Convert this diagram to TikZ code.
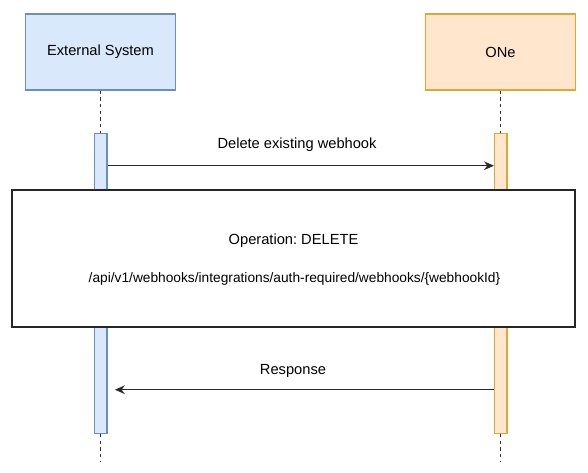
\documentclass[tikz,border=0pt]{standalone}
\usepackage{fontspec}
\setmainfont{Liberation Sans}
\frenchspacing
\usetikzlibrary{arrows.meta}
\definecolor{bluefill}{HTML}{DAE8FC}
\definecolor{bluedraw}{HTML}{6C8EBF}
\definecolor{orfill}{HTML}{FFE6CC}
\definecolor{ordraw}{HTML}{DDA833}
\definecolor{linegray}{HTML}{2A2A2A}
\tikzset{
  actor/.style={draw, line width=1pt, minimum width=150*0.75pt, minimum height=76*0.75pt, font=\fontsize{11}{13}\selectfont, inner sep=0pt},
  bluebox/.style={actor, fill=bluefill, draw=bluedraw},
  orbox/.style={actor, fill=orfill, draw=ordraw},
  lifeline/.style={dashed, dash pattern=on 2.5pt off 2.5pt, line width=0.8pt, draw=black!80},
  msg/.style={draw=linegray, line width=1pt, -{Stealth[length=7.5pt,width=6.5pt,inset=2.5pt]}},
  lbl/.style={font=\fontsize{11}{13}\selectfont, inner sep=0pt},
}
\begin{document}
\begin{tikzpicture}[x=0.75pt,y=-0.75pt]
\useasboundingbox (0,0) rectangle (588,472);
% actors
\node[bluebox] (ext) at (100.5,52) {External System};
\node[orbox] (one) at (500.5,52) {ONe};
% lifeline ends
\coordinate (extEnd) at (100.5,462);
\coordinate (oneEnd) at (500.5,462);
% activations
\node[draw=bluedraw, fill=bluefill, line width=0.8pt, minimum width=12.5*0.75pt, minimum height=300*0.75pt, inner sep=0pt] (extAct) at (100.75,283.5) {};
\node[draw=ordraw, fill=orfill, line width=0.8pt, minimum width=12.5*0.75pt, minimum height=300*0.75pt, inner sep=0pt] (oneAct) at (500.75,283.5) {};
\draw[lifeline] (ext.south) -- (ext.south |- extAct.north);
\draw[lifeline] (one.south) -- (one.south |- oneAct.north);
\draw[lifeline] (extAct.south -| extEnd) -- (extEnd);
\draw[lifeline] (oneAct.south -| oneEnd) -- (oneEnd);
% request
\coordinate (reqA) at (107,165.7);
\draw[msg] (extAct.east |- reqA) -- (oneAct.west |- reqA);
\node[lbl] (reqL) at (297,145) {Delete existing webhook};
% operation box
\node[draw=black!85, fill=white, line width=1.1pt, minimum width=563*0.75pt, minimum height=137*0.75pt, inner sep=0pt] (op) at (293.5,258.5) {};
\node[lbl] (opL1) at (293.5,240.5) {Operation: DELETE};
\node[lbl, font=\fontsize{10.3}{12}\selectfont] (opL2) at (294.5,278.5) {/api/v1/webhooks/integrations/auth-required/webhooks/\{webhookId\}};
% response
\coordinate (resA) at (494,389.7);
\draw[msg] (oneAct.west |- resA) -- ([xshift=5.5pt]extAct.east |- resA);
\node[lbl] (resL) at (293,370.5) {Response};
\end{tikzpicture}
\end{document}
